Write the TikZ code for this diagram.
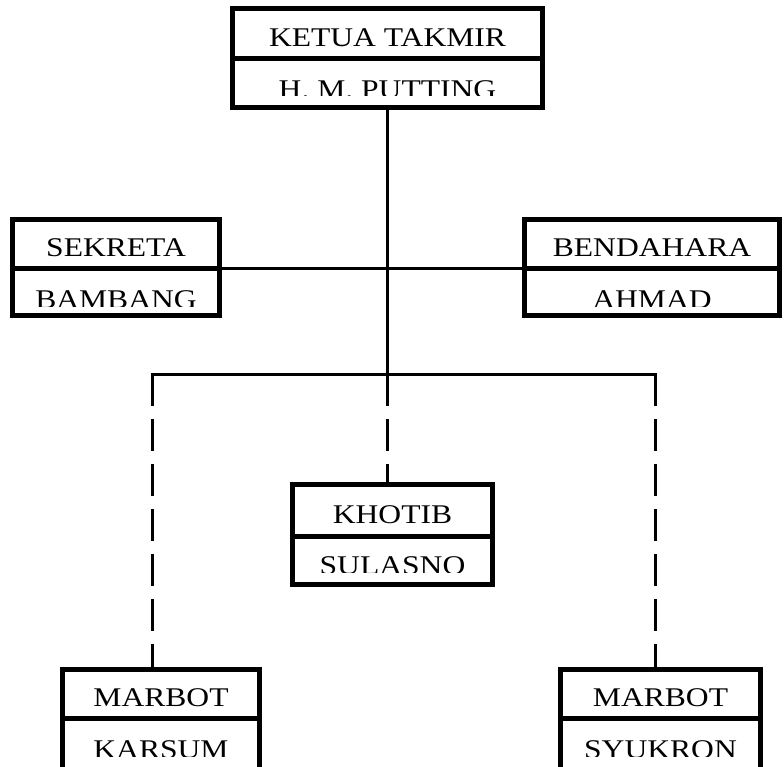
\documentclass[tikz,border=0pt]{standalone}
\usepackage{fontspec}
\newfontfamily\boxfont[FakeStretch=1.17]{Liberation Serif}
\begin{document}
\begin{tikzpicture}[x=1pt,y=-1pt,
  cell/.style={draw=black, line width=5pt, fill=white, inner sep=0pt, outer sep=0pt},
  lbl/.style={font=\boxfont\fontsize{27pt}{30pt}\selectfont, inner sep=0pt, anchor=base},
  link/.style={line width=3pt, draw=black},
  dlink/.style={link, dash pattern=on 32pt off 13pt}]
\clip (0,0) rectangle (784,767);
% connectors coordinates
\coordinate (busC) at (387.5,374);
\coordinate (busL) at (152,374);
\coordinate (busR) at (655,374);
% boxes
\node[cell, minimum width=310pt, minimum height=50.5pt] (ketua)  at (387.5,33.75) {};
\node[cell, minimum width=310pt, minimum height=48.5pt] (ketuaN) at (387.5,83.25) {};
\node[cell, minimum width=207pt, minimum height=49.5pt] (sek)  at (116,244.25) {};
\node[cell, minimum width=207pt, minimum height=46.5pt] (sekN) at (116,292.25) {};
\node[cell, minimum width=255pt, minimum height=49.5pt] (ben)  at (652,244.25) {};
\node[cell, minimum width=255pt, minimum height=46.5pt] (benN) at (652,292.25) {};
\node[cell, minimum width=200pt, minimum height=51.5pt] (kho)  at (392.5,510.25) {};
\node[cell, minimum width=200pt, minimum height=48.5pt] (khoN) at (392.5,560.25) {};
\node[cell, minimum width=197pt, minimum height=48.5pt] (mkL)  at (161,693.75) {};
\node[cell, minimum width=197pt, minimum height=72pt]   (mkLN) at (161,754) {};
\node[cell, minimum width=200pt, minimum height=48.5pt] (mkR)  at (660.5,693.75) {};
\node[cell, minimum width=200pt, minimum height=72pt]   (mkRN) at (660.5,754) {};
% connectors
\draw[link] (ketuaN.south) -- (busC);
\draw[link] (sek.south east) -- (ben.south west);
\draw[link, line cap=rect] (busL) -- (busR);
\draw[dlink] (busL) -- (busL |- mkL.north);
\draw[dlink] (busC) -- (busC |- kho.north);
\draw[dlink] (busR) -- (busR |- mkR.north);
% upper labels
\node[lbl] (ketuaT) at (387.5,47) {KETUA TAKMIR};
\node[lbl] (sekT) at (116,257) {SEKRETA};
\node[lbl] (benT) at (652,257) {BENDAHARA};
\node[lbl] (khoT) at (392.5,523.5) {KHOTIB};
\node[lbl] (mkLT) at (161,706) {MARBOT};
\node[lbl] (mkRT) at (660.5,706) {MARBOT};
% lower labels, cut at the bottom
\begin{scope}
\clip (232.5,59) rectangle (542.5,96);
\node[lbl] (ketuaNT) at (387.5,98.5) {H. M. PUTTING};
\end{scope}
\begin{scope}
\clip (12.5,269) rectangle (219.5,306);
\node[lbl] (sekNT) at (116,308.5) {BAMBANG};
\end{scope}
\begin{scope}
\clip (524.5,269) rectangle (779.5,306);
\node[lbl] (benNT) at (652,308.5) {AHMAD};
\end{scope}
\begin{scope}
\clip (292.5,536) rectangle (492.5,572);
\node[lbl] (khoNT) at (392.5,574.5) {SULASNO};
\end{scope}
\begin{scope}
\clip (62.5,718) rectangle (259.5,756);
\node[lbl] (mkLNT) at (161,758.5) {KARSUM};
\end{scope}
\begin{scope}
\clip (560.5,718) rectangle (760.5,756);
\node[lbl] (mkRNT) at (660.5,758.5) {SYUKRON};
\end{scope}
\end{tikzpicture}
\end{document}
